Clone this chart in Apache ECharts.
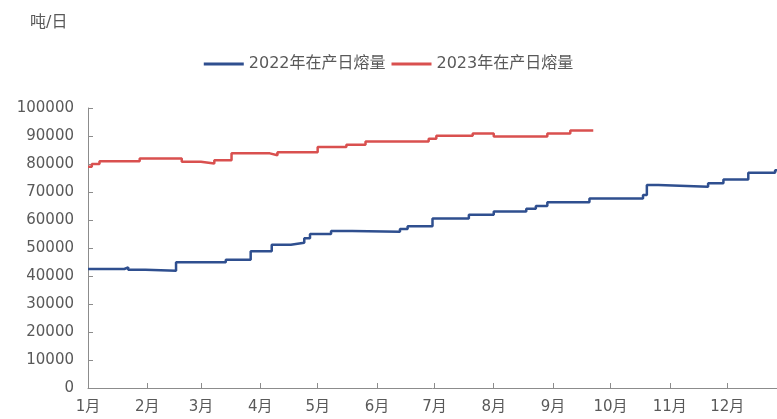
<!DOCTYPE html>
<html>
<head>
<meta charset="utf-8">
<script src="https://cdn.jsdelivr.net/npm/echarts@6/dist/echarts.min.js"></script>
<style>
html,body{margin:0;padding:0;background:#fff;}
#main{width:777px;height:419px;}
</style>
</head>
<body>
<div id="main"></div>
<script>
// Month tick labels and the day-of-year each month starts on
const monthLabels = ['1月','2月','3月','4月','5月','6月','7月','8月','9月','10月','11月','12月'];
const monthStartDays = [0,31,59,90,120,151,181,212,243,273,304,334];

// Series names
const seriesNames = ['2022年在产日熔量','2023年在产日熔量'];

// 2022: days where the level changes, and the level from that day on (吨/日)
const days2022 = [0,19,21,30,46,72,85,96,106,113,116,127,138,163,167,180,199,212,229,234,240,262,290,292,298,324,332,345,359,360];
const values2022 = [42500,43100,42200,41900,44900,45800,48800,51200,51900,53500,55000,56100,55800,56800,57800,60500,61900,63000,64000,65000,66300,67700,68900,72500,71900,73100,74500,76900,77800,77800];

// 2023
const days2023 = [0,2,6,27,49,59,66,75,95,99,120,135,145,178,182,201,212,240,252,264];
const values2023 = [79000,80000,81000,82000,80800,80200,81300,83800,83100,84200,86100,86900,88000,89000,90100,90900,89800,90900,92000,92000];

const yTicks = {min:0, max:100000, interval:10000};

function pairs(xs, ys){ return xs.map((x,i)=>[x, ys[i]]); }

const chart = echarts.init(document.getElementById('main'), null, {renderer:'canvas'});
const labelColor = '#595959';
const fontFamily = '"DejaVu Sans","Noto Sans CJK SC",sans-serif';
chart.setOption({
  animation:false,
  backgroundColor:'#fff',
  textStyle:{fontFamily:fontFamily},
  title:{
    text:'吨/日', left:25, top:10,
    textStyle:{fontSize:16, fontWeight:'normal', color:labelColor, fontFamily:fontFamily}
  },
  legend:{
    data:seriesNames,
    top:51, left:'center',
    itemWidth:40, itemHeight:3, itemGap:6,
    icon:'rect',
    textStyle:{fontSize:16, color:labelColor, fontFamily:fontFamily}
  },
  grid:{left:88, right:0, top:108, bottom:31},
  xAxis:{
    type:'value', min:0, max:360,
    splitLine:{show:false},
    axisLine:{show:true, lineStyle:{color:'#8c8c8c', width:1}},
    axisTick:{show:true, inside:true, length:5, customValues:monthStartDays, lineStyle:{color:'#8c8c8c'}},
    axisLabel:{
      customValues:monthStartDays,
      margin:12, fontSize:15, color:labelColor, fontFamily:fontFamily,
      formatter:function(v){ const i = monthStartDays.indexOf(Math.round(v)); return i>=0 ? monthLabels[i] : ''; }
    }
  },
  yAxis:{
    type:'value', min:yTicks.min, max:yTicks.max, interval:yTicks.interval,
    splitLine:{show:false},
    axisLine:{show:true, lineStyle:{color:'#8c8c8c', width:1}},
    axisTick:{show:true, inside:true, length:5, lineStyle:{color:'#8c8c8c'}},
    axisLabel:{margin:14, fontSize:15, color:labelColor, fontFamily:fontFamily,
      formatter:function(v){ return String(v); }}
  },
  series:[
    {
      name:seriesNames[0], type:'line', step:'end', showSymbol:false,
      data:pairs(days2022, values2022),
      lineStyle:{color:'#2f4f8f', width:2.5},
      itemStyle:{color:'#2f4f8f'}
    },
    {
      name:seriesNames[1], type:'line', step:'end', showSymbol:false,
      data:pairs(days2023, values2023),
      lineStyle:{color:'#d9504f', width:2.5},
      itemStyle:{color:'#d9504f'}
    }
  ]
});
</script>
</body>
</html>
